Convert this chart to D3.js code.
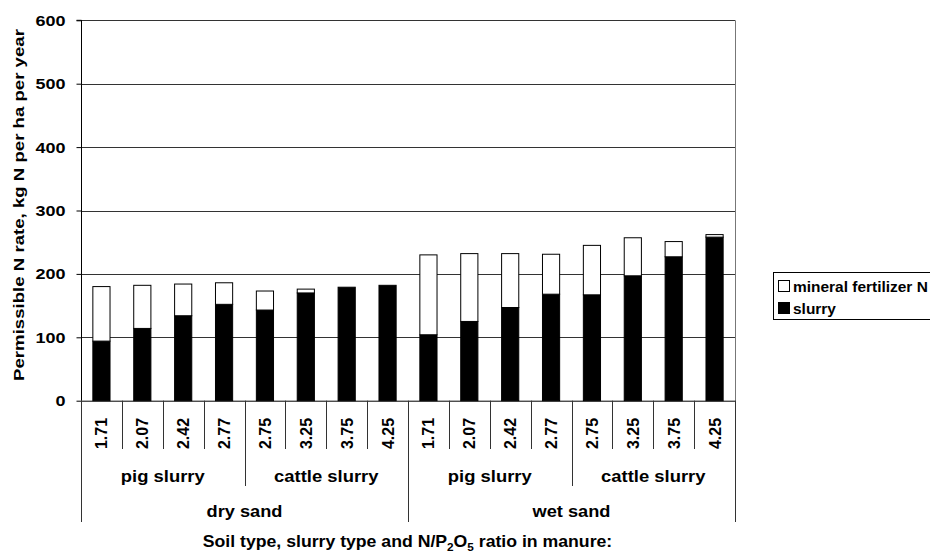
<!DOCTYPE html>
<html><head><meta charset="utf-8">
<script src="https://cdn.jsdelivr.net/npm/d3@7"></script>
<style>
body{margin:0;background:#fff;}
text{font-family:"Liberation Sans",Arial,sans-serif;font-weight:bold;fill:#000;}
</style></head><body>
<svg id="c" width="930" height="552"></svg>
<script>
const soils = ["dry sand","wet sand"];
const slurryTypes = ["pig slurry","cattle slurry"];
const ratios = ["1.71","2.07","2.42","2.77","2.75","3.25","3.75","4.25","1.71","2.07","2.42","2.77","2.75","3.25","3.75","4.25"];
const slurryN = [94,114,134,152,143,170,179,182,104,125,147,168,167,197,227,258];
const mineralN = [86,68,50,34,30,6,0,0,126,107,85,63,78,60,24,4];
const yTicks = [0,100,200,300,400,500,600];
const seriesNames = ["mineral fertilizer N","slurry"];

const svg = d3.select("#c");
const L=81, R=735, T=20.3, B=400.7;
const n = ratios.length;
const x = d3.scaleBand().domain(d3.range(n)).range([L,R]).paddingInner(0.58).paddingOuter(0.29);
const xb = d3.scaleLinear().domain([0,n]).range([L,R]);
const y = d3.scaleLinear().domain([0,600]).range([B,T]);

function factor(sel, target){ const w = sel.node().getComputedTextLength(); return target / w; }

// gridlines
svg.append("g").selectAll("line").data(yTicks.filter(d=>d>0)).join("line")
  .attr("x1",L).attr("x2",R).attr("y1",d=>Math.round(y(d))+0.5).attr("y2",d=>Math.round(y(d))+0.5)
  .attr("stroke","#333").attr("stroke-width",1);
svg.append("line").attr("x1",R+0.5).attr("x2",R+0.5).attr("y1",T).attr("y2",B).attr("stroke","#777");

// bars
const g = svg.append("g");
g.selectAll("rect.s").data(slurryN).join("rect").attr("class","s")
  .attr("x",(d,i)=>x(i)).attr("width",x.bandwidth())
  .attr("y",d=>y(d)).attr("height",d=>B-y(d))
  .attr("fill","#000").attr("stroke","#000").attr("stroke-width",1);
g.selectAll("rect.m").data(mineralN).join("rect").attr("class","m")
  .attr("x",(d,i)=>x(i)).attr("width",x.bandwidth())
  .attr("y",(d,i)=>y(d+slurryN[i])).attr("height",(d,i)=>y(slurryN[i])-y(d+slurryN[i]))
  .attr("fill","#fff").attr("stroke","#000").attr("stroke-width",1)
  .attr("display",d=>d>0?null:"none");

// y axis
const ya = d3.axisLeft(y).tickValues(yTicks).tickSize(5).tickFormat(()=>"");
const yg = svg.append("g").attr("transform",`translate(${L+0.5},0)`).call(ya);
yg.select(".domain").attr("stroke","#000").attr("d",`M-5,${T}H0V${B}`);
yg.selectAll(".tick line").attr("stroke","#000");
const yl = svg.append("g").selectAll("text").data(yTicks).join("text")
  .attr("text-anchor","end").style("font-size","15.5px").attr("dy","0.36em").text(d=>d);
const fy = factor(yl.filter(d=>d===600), 30);
yl.attr("transform",d=>`translate(65.5,${y(d)}) scale(${fy},1)`);

// x axis baseline
svg.append("line").attr("x1",L).attr("x2",R+1).attr("y1",B+0.5).attr("y2",B+0.5).attr("stroke","#000");

// category separators
const sepY = i => (i%8===0) ? 522 : (i%4===0 ? 486 : 449);
svg.append("g").selectAll("line").data(d3.range(n+1)).join("line")
  .attr("x1",i=>Math.round(xb(i))+0.5).attr("x2",i=>Math.round(xb(i))+0.5)
  .attr("y1",B).attr("y2",sepY).attr("stroke","#333").attr("stroke-width",1);

// ratio labels
const rl = svg.append("g").selectAll("text").data(ratios).join("text")
  .attr("text-anchor","middle").attr("dy","0.36em").style("font-size","16.5px").text(d=>d);
const fr = factor(rl.filter((d,i)=>i===1), 31);
rl.attr("transform",(d,i)=>`translate(${x(i)+x.bandwidth()/2},433.5) rotate(-90) scale(${fr},1)`);

// slurry type labels
const grp = d3.range(4).map(k=>({k, label: slurryTypes[k%2]}));
const gl = svg.append("g").selectAll("text").data(grp).join("text")
  .attr("text-anchor","middle").style("font-size","16.5px").text(d=>d.label);
const fg = factor(gl.filter(d=>d.k===0), 84);
gl.attr("transform",d=>`translate(${xb(d.k*4+2)},482) scale(${fg},1)`);

// soil labels
const sl = svg.append("g").selectAll("text").data(soils).join("text")
  .attr("text-anchor","middle").style("font-size","16.5px").text(d=>d);
const fs = factor(sl.filter((d,i)=>i===0), 76);
sl.attr("transform",(d,i)=>`translate(${xb(i*8+4)},517) scale(${fs},1)`);

// x title
const xt = svg.append("text").attr("text-anchor","middle").style("font-size","16.5px");
xt.append("tspan").text("Soil type, slurry type and N/P");
xt.append("tspan").text("2").attr("dy",4).style("font-size","11px");
xt.append("tspan").text("O").attr("dy",-4);
xt.append("tspan").text("5").attr("dy",4).style("font-size","11px");
xt.append("tspan").text(" ratio in manure:").attr("dy",-4);
const fx = factor(xt, 410);
xt.attr("transform",`translate(407.5,547) scale(${fx},1)`);

// y title
const yt = svg.append("text").attr("text-anchor","middle").attr("dy","0.36em")
  .style("font-size","15.5px").text("Permissible N rate, kg N per ha per year");
const fyt = factor(yt, 352);
yt.attr("transform",`translate(18,205) rotate(-90) scale(${fyt},1)`);

// legend
const lg = svg.append("g");
lg.append("rect").attr("x",773.5).attr("y",272.5).attr("width",170).attr("height",47)
  .attr("fill","#fff").attr("stroke","#000");
const le = lg.selectAll("g").data(seriesNames).join("g")
  .attr("transform",(d,i)=>`translate(778,${280+i*22})`);
le.append("rect").attr("x",0.5).attr("y",0.5).attr("width",11).attr("height",11)
  .attr("fill",(d,i)=>i===0?"#fff":"#000").attr("stroke","#000");
const lt = le.append("text").style("font-size","15px").text(d=>d);
const fl = factor(lt.filter((d,i)=>i===0), 135);
lt.attr("transform",`translate(15,11.5) scale(${fl},1)`);
</script></body></html>
